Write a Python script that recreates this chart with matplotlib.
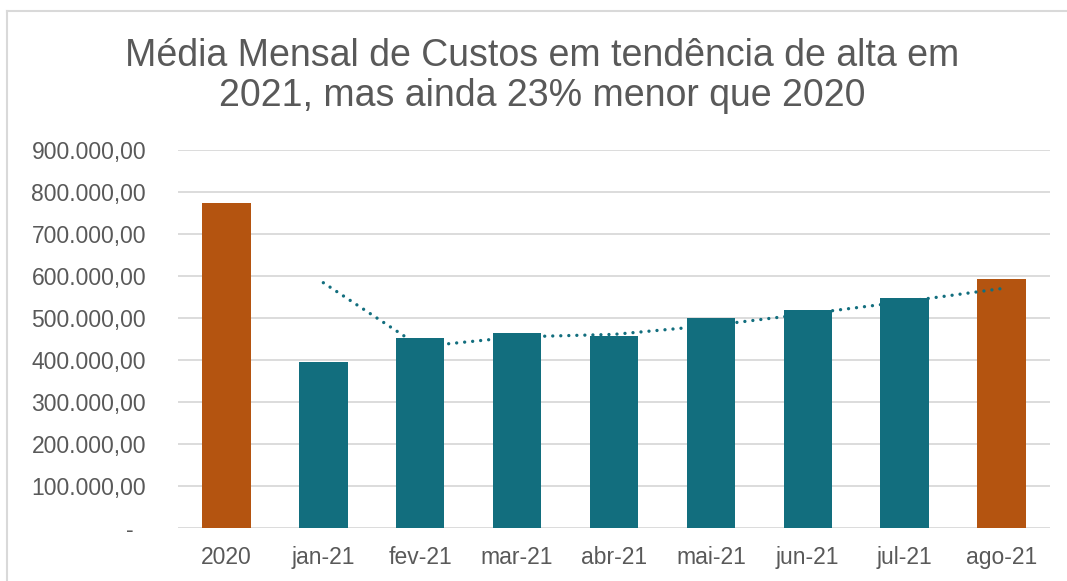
import matplotlib.pyplot as plt
from matplotlib.ticker import FuncFormatter
import numpy as np

plt.rcParams['font.family'] = ['Liberation Sans', 'DejaVu Sans']

# Dados
categorias = ['2020', 'jan-21', 'fev-21', 'mar-21', 'abr-21', 'mai-21', 'jun-21', 'jul-21', 'ago-21']
custos = [774000, 395000, 452000, 464000, 456000, 499000, 519000, 548000, 593000]
destaque = [True, False, False, False, False, False, False, False, True]
tendencia_cat = ['jan-21', 'fev-21', 'mar-21', 'abr-21', 'mai-21', 'jun-21', 'jul-21', 'ago-21']
tendencia = [584000, 432000, 455000, 461000, 482000, 510000, 539000, 570000]
y_ticks = [0, 100000, 200000, 300000, 400000, 500000, 600000, 700000, 800000, 900000]

TEAL = '#126E7E'
LARANJA = '#B45410'
CINZA = '#595959'

def fmt_brl(v, pos=None):
    if v == 0:
        return '-  '
    s = f"{v:,.2f}"
    return s.replace(',', 'X').replace('.', ',').replace('X', '.')

fig = plt.figure(figsize=(10.67, 5.81), dpi=100)
fig.patch.set_facecolor('white')

# borda da área do gráfico (cortada à direita e embaixo)
W, H = 1067, 581
fig.add_artist(plt.Line2D([7 / W, 7 / W], [0, 1 - 11 / H], color='#D9D9D9', lw=1.5,
                          transform=fig.transFigure))
fig.add_artist(plt.Line2D([7 / W, 1], [1 - 11 / H, 1 - 11 / H], color='#D9D9D9', lw=1.5,
                          transform=fig.transFigure))

ax = fig.add_axes([178 / W, 53 / H, (1050 - 178) / W, (528 - 150) / H])

x = np.arange(len(categorias))
cores = [LARANJA if d else TEAL for d in destaque]
ax.bar(x, custos, width=0.5, color=cores, zorder=2)

xt = [categorias.index(c) for c in tendencia_cat]
ax.plot(xt, tendencia, color=TEAL, lw=2.4, linestyle=(0, (0.01, 2.4)),
        dash_capstyle='round', zorder=3)

ax.set_xlim(-0.5, len(categorias) - 0.5)
ax.set_ylim(0, 900000)
ax.set_yticks(y_ticks)
ax.yaxis.set_major_formatter(FuncFormatter(fmt_brl))
ax.set_xticks(x)
ax.set_xticklabels(categorias)

ax.grid(axis='y', color='#D5D5D5', lw=1.2, zorder=0)
for s in ax.spines.values():
    s.set_visible(False)
ax.tick_params(axis='both', length=0, labelsize=16.5, labelcolor=CINZA)
ax.tick_params(axis='y', pad=23)
ax.tick_params(axis='x', pad=13)

fig.text(542 / W, 1 - 76 / H,
         'Média Mensal de Custos em tendência de alta em\n2021, mas ainda 23% menor que 2020',
         ha='center', va='center', fontsize=27, color=CINZA, linespacing=1.12)

fig.savefig('out.png', dpi=100)
